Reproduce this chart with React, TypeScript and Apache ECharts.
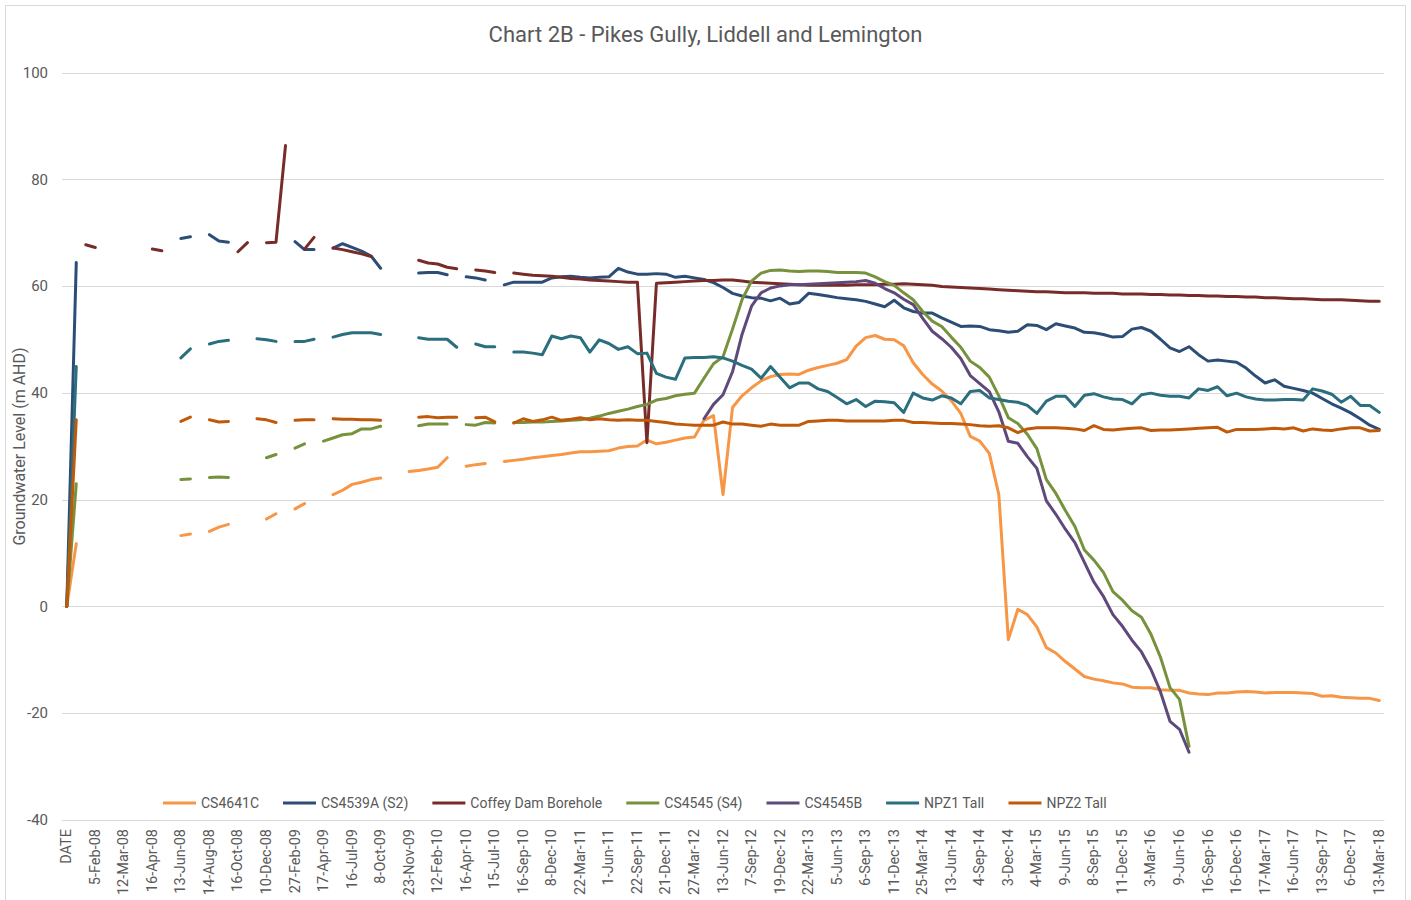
import React, { useEffect, useRef } from 'react';
import * as echarts from 'echarts';

const _ = null;

const tickLabels = [
  'DATE', '5-Feb-08', '12-Mar-08', '16-Apr-08', '13-Jun-08', '14-Aug-08', '16-Oct-08', '10-Dec-08',
  '27-Feb-09', '17-Apr-09', '16-Jul-09', '8-Oct-09', '23-Nov-09', '12-Feb-10', '16-Apr-10', '15-Jul-10',
  '16-Sep-10', '8-Dec-10', '22-Mar-11', '1-Jun-11', '22-Sep-11', '21-Dec-11', '27-Mar-12', '13-Jun-12',
  '7-Sep-12', '19-Dec-12', '22-Mar-13', '5-Jun-13', '6-Sep-13', '11-Dec-13', '25-Mar-14', '13-Jun-14',
  '4-Sep-14', '3-Dec-14', '4-Mar-15', '9-Jun-15', '8-Sep-15', '11-Dec-15', '3-Mar-16', '9-Jun-16',
  '16-Sep-16', '16-Dec-16', '17-Mar-17', '16-Jun-17', '13-Sep-17', '6-Dec-17', '13-Mar-18',
];

// every third sampling date is labelled on the axis; the two in between are unlabelled
const categories: string[] = tickLabels.flatMap((t, k) => (k < tickLabels.length - 1 ? [t, '', ''] : [t]));

const cs4641c = [
  0, 11.8, _, _, _, _, _, _, _, _,
  _, _, 13.3, 13.6, _, 14.1, 14.9, 15.4, _, _,
  _, 16.4, 17.4, _, 18.3, 19.3, _, _, 21.0, 21.8,
  22.9, 23.3, 23.8, 24.1, _, _, 25.3, 25.5, 25.8, 26.1,
  27.9, _, 26.3, 26.6, 26.8, _, 27.2, 27.4, 27.6, 27.9,
  28.1, 28.3, 28.5, 28.8, 29.0, 29.0, 29.1, 29.2, 29.7, 30.0,
  30.1, 31.2, 30.5, 30.8, 31.2, 31.6, 31.8, 34.9, 35.8, 21.0,
  37.3, 39.5, 41.0, 42.3, 43.1, 43.5, 43.6, 43.5, 44.3, 44.8,
  45.2, 45.6, 46.3, 48.8, 50.4, 50.8, 50.1, 50.0, 48.9, 45.7,
  43.5, 41.7, 40.4, 38.6, 36.2, 31.9, 31.0, 28.7, 21.0, -6.2,
  -0.5, -1.5, -3.8, -7.7, -8.7, -10.3, -11.7, -13.1, -13.6, -13.9,
  -14.3, -14.5, -15.1, -15.2, -15.2, -15.6, -15.7, -15.7, -16.2, -16.4,
  -16.5, -16.2, -16.2, -16.0, -15.9, -16.0, -16.2, -16.1, -16.1, -16.1,
  -16.2, -16.3, -16.8, -16.7, -17.0, -17.1, -17.2, -17.2, -17.6,
];

const cs4539a = [
  0, 64.5, _, _, _, _, _, _, _, _,
  _, _, 69.0, 69.3, _, 69.7, 68.5, 68.3, _, _,
  _, _, _, _, 68.4, 66.9, 66.9, _, 67.2, 68.0,
  67.3, 66.6, 65.7, 63.4, _, _, _, 62.5, 62.6, 62.6,
  62.2, _, 61.8, 61.6, 61.2, _, 60.3, 60.8, 60.8, 60.8,
  60.8, 61.6, 61.8, 61.9, 61.7, 61.6, 61.7, 61.8, 63.4, 62.7,
  62.3, 62.3, 62.4, 62.3, 61.7, 61.9, 61.6, 61.3, 60.7, 59.8,
  58.7, 58.2, 57.9, 57.8, 57.3, 57.8, 56.7, 57.0, 58.7, 58.5,
  58.2, 57.9, 57.7, 57.5, 57.2, 56.7, 56.2, 57.4, 56.0, 55.3,
  55.0, 55.0, 54.1, 53.3, 52.5, 52.6, 52.5, 51.9, 51.7, 51.4,
  51.6, 52.8, 52.7, 51.9, 53.0, 52.6, 52.2, 51.4, 51.3, 51.0,
  50.5, 50.6, 52.0, 52.3, 51.6, 50.1, 48.5, 47.8, 48.7, 47.2,
  46.0, 46.2, 46.0, 45.8, 44.7, 43.2, 41.9, 42.5, 41.3, 40.9,
  40.5, 40.0, 39.0, 38.0, 37.2, 36.3, 35.2, 34.0, 33.2,
];

const coffeyDam = [
  _, _, 67.8, 67.3, _, _, _, _, _, 67.0,
  66.7, _, _, _, _, _, _, _, 66.5, 68.2,
  _, 68.2, 68.3, 86.4, _, 67.0, 69.2, _, 67.2, 66.9,
  66.5, 66.1, 65.6, _, _, _, _, 64.9, 64.4, 64.2,
  63.6, 63.3, _, 63.1, 62.9, 62.6, _, 62.5, 62.3, 62.1,
  62.0, 61.9, 61.7, 61.5, 61.4, 61.2, 61.1, 61.0, 60.9, 60.8,
  60.8, 30.7, 60.6, 60.7, 60.8, 60.9, 61.0, 61.1, 61.1, 61.2,
  61.2, 61.0, 60.8, 60.7, 60.6, 60.5, 60.4, 60.3, 60.2, 60.2,
  60.2, 60.2, 60.2, 60.3, 60.3, 60.3, 60.4, 60.4, 60.5, 60.4,
  60.3, 60.2, 60.0, 59.9, 59.8, 59.7, 59.6, 59.5, 59.4, 59.3,
  59.2, 59.1, 59.0, 59.0, 58.9, 58.8, 58.8, 58.8, 58.7, 58.7,
  58.7, 58.6, 58.6, 58.6, 58.5, 58.5, 58.4, 58.4, 58.3, 58.3,
  58.2, 58.2, 58.1, 58.1, 58.0, 58.0, 57.9, 57.9, 57.8, 57.7,
  57.7, 57.6, 57.5, 57.5, 57.5, 57.4, 57.3, 57.2, 57.2,
];

const cs4545 = [
  0, 23.0, _, _, _, _, _, _, _, _,
  _, _, 23.8, 23.9, _, 24.2, 24.3, 24.2, _, _,
  _, 27.9, 28.5, _, 29.7, 30.5, _, 31.0, 31.6, 32.2,
  32.4, 33.3, 33.3, 33.8, _, _, _, 33.9, 34.2, 34.2,
  34.2, _, 34.1, 34.0, 34.5, 34.4, _, 34.5, 34.5, 34.6,
  34.6, 34.7, 34.8, 34.9, 35.0, 35.3, 35.7, 36.2, 36.6, 37.0,
  37.5, 37.9, 38.7, 39.0, 39.5, 39.8, 40.0, 42.8, 45.5, 46.8,
  52.0, 57.5, 61.0, 62.5, 63.0, 63.1, 62.9, 62.8, 62.9, 62.9,
  62.8, 62.6, 62.6, 62.6, 62.5, 61.8, 60.9, 60.2, 58.8, 57.5,
  55.3, 53.5, 52.5, 50.5, 48.6, 46.0, 44.8, 43.0, 39.5, 35.4,
  34.3, 32.3, 29.6, 23.8, 21.2, 18.0, 15.0, 10.6, 8.7, 6.4,
  2.8, 1.2, -0.8, -2.0, -5.2, -9.5, -15.2, -17.4, -26.2, _,
  _, _, _, _, _, _, _, _, _, _,
  _, _, _, _, _, _, _, _, _,
];

const cs4545b = [
  _, _, _, _, _, _, _, _, _, _,
  _, _, _, _, _, _, _, _, _, _,
  _, _, _, _, _, _, _, _, _, _,
  _, _, _, _, _, _, _, _, _, _,
  _, _, _, _, _, _, _, _, _, _,
  _, _, _, _, _, _, _, _, _, _,
  _, _, _, _, _, _, _, 35.2, 37.9, 39.7,
  44.0, 51.0, 56.3, 58.8, 59.7, 60.1, 60.3, 60.3, 60.4, 60.5,
  60.6, 60.7, 60.8, 60.9, 61.1, 60.6, 59.6, 58.8, 57.6, 56.6,
  54.0, 51.6, 50.2, 48.6, 46.5, 43.3, 41.8, 40.3, 36.5, 31.0,
  30.6, 28.1, 25.9, 19.8, 17.3, 14.5, 12.0, 8.3, 4.6, 1.9,
  -1.5, -3.7, -6.3, -8.5, -11.8, -16.0, -21.5, -23.0, -27.3, _,
  _, _, _, _, _, _, _, _, _, _,
  _, _, _, _, _, _, _, _, _,
];

const npz1 = [
  0, 45.0, _, _, _, _, _, _, _, _,
  _, _, 46.6, 48.3, _, 49.2, 49.7, 49.9, _, _,
  50.2, 50.0, 49.7, _, 49.7, 49.7, 50.1, _, 50.5, 51.0,
  51.3, 51.3, 51.3, 51.0, _, _, _, 50.4, 50.1, 50.1,
  50.1, 48.6, _, 49.2, 48.7, 48.7, _, 47.7, 47.7, 47.5,
  47.2, 50.7, 50.2, 50.7, 50.4, 47.7, 50.0, 49.3, 48.2, 48.7,
  47.4, 47.5, 43.7, 43.0, 42.6, 46.6, 46.7, 46.7, 46.8, 46.6,
  46.0, 45.2, 44.5, 42.8, 45.0, 43.0, 41.0, 41.9, 41.9, 40.8,
  40.3, 39.2, 38.0, 38.8, 37.5, 38.5, 38.4, 38.2, 36.4, 40.0,
  39.1, 38.7, 39.5, 39.1, 38.0, 40.3, 40.5, 39.1, 38.8, 38.5,
  38.3, 37.7, 36.2, 38.5, 39.4, 39.4, 37.5, 39.6, 39.9, 39.3,
  38.9, 38.8, 38.0, 39.7, 40.0, 39.6, 39.4, 39.4, 39.1, 40.8,
  40.5, 41.2, 39.5, 40.0, 39.3, 38.9, 38.7, 38.7, 38.8, 38.8,
  38.7, 40.8, 40.4, 39.8, 38.3, 39.4, 37.7, 37.7, 36.4,
];

const npz2 = [
  0, 35.0, _, _, _, _, _, _, _, _,
  _, _, 34.7, 35.5, _, 35.0, 34.6, 34.7, _, _,
  35.2, 35.0, 34.5, _, 34.9, 35.0, 35.0, _, 35.2, 35.1,
  35.1, 35.0, 35.0, 34.9, _, _, _, 35.5, 35.6, 35.4,
  35.5, 35.5, _, 35.4, 35.5, 34.6, _, 34.4, 35.2, 34.7,
  35.0, 35.5, 34.9, 35.1, 35.4, 35.0, 35.2, 35.0, 34.9, 35.0,
  34.9, 34.9, 34.7, 34.5, 34.2, 34.1, 34.0, 34.0, 34.0, 34.6,
  34.2, 34.2, 34.0, 33.8, 34.2, 34.0, 34.0, 34.0, 34.7, 34.8,
  34.9, 34.9, 34.8, 34.8, 34.8, 34.8, 34.8, 34.9, 34.9, 34.5,
  34.5, 34.4, 34.3, 34.3, 34.2, 34.1, 33.9, 33.8, 33.9, 33.5,
  32.6, 33.3, 33.5, 33.5, 33.5, 33.4, 33.3, 33.0, 33.9, 33.2,
  33.1, 33.3, 33.4, 33.5, 33.0, 33.1, 33.1, 33.2, 33.3, 33.4,
  33.5, 33.6, 32.7, 33.2, 33.2, 33.2, 33.3, 33.4, 33.3, 33.5,
  32.9, 33.3, 33.1, 33.0, 33.3, 33.5, 33.5, 32.9, 33.0,
];

const seriesDefs = [
  { name: 'CS4641C', color: '#F79646', data: cs4641c },
  { name: 'CS4539A (S2)', color: '#2C4D75', data: cs4539a },
  { name: 'Coffey Dam Borehole', color: '#772C2A', data: coffeyDam },
  { name: 'CS4545 (S4)', color: '#76923C', data: cs4545 },
  { name: 'CS4545B', color: '#5F497A', data: cs4545b },
  { name: 'NPZ1 Tall', color: '#2B6E7E', data: npz1 },
  { name: 'NPZ2 Tall', color: '#C05A0A', data: npz2 },
];

const FONT = 'Roboto, "Noto Sans", sans-serif';
const GREY = '#595959';

export default function App() {
  const ref = useRef<HTMLDivElement>(null);

  useEffect(() => {
    if (!ref.current) return;
    const chart = echarts.init(ref.current, undefined, { renderer: 'svg' });
    chart.setOption({
      animation: false,
      backgroundColor: '#FFFFFF',
      title: {
        text: 'Chart 2B - Pikes Gully, Liddell and Lemington',
        left: 'center',
        top: 18,
        padding: 5,
        textStyle: { fontFamily: FONT, fontSize: 22, fontWeight: 'normal', color: GREY },
      },
      legend: {
        data: seriesDefs.map((s) => s.name),
        left: 158,
        top: 791,
        icon: 'rect',
        itemWidth: 33,
        itemHeight: 3,
        itemGap: 24,
        textStyle: { fontFamily: FONT, fontSize: 14, color: GREY },
      },
      grid: { left: 62, right: 27, top: 73, bottom: 80, containLabel: false, outerBoundsMode: 'none' },
      xAxis: {
        type: 'category',
        data: categories,
        boundaryGap: true,
        axisLine: { onZero: false, lineStyle: { color: '#D9D9D9', width: 1 } },
        axisTick: { show: false },
        axisLabel: {
          interval: 2,
          rotate: 90,
          margin: 9,
          fontFamily: FONT,
          fontSize: 14.5,
          color: GREY,
        },
        splitLine: { show: false },
      },
      yAxis: {
        type: 'value',
        min: -40,
        max: 100,
        interval: 20,
        name: 'Groundwater Level (m AHD)',
        nameLocation: 'middle',
        nameGap: 35,
        nameMoveOverlap: false,
        nameTextStyle: { fontFamily: FONT, fontSize: 16, color: GREY },
        axisLine: { show: false },
        axisTick: { show: false },
        axisLabel: { fontFamily: FONT, fontSize: 15, color: GREY, margin: 14 },
        splitLine: { lineStyle: { color: '#D9D9D9', width: 1 } },
      },
      graphic: [
        {
          type: 'rect',
          silent: true,
          z: -10,
          shape: { x: 5.5, y: 5.5, width: 1400, height: 905 },
          style: { fill: 'none', stroke: '#D9D9D9', lineWidth: 1 },
        },
      ],
      series: seriesDefs.map((s) => ({
        name: s.name,
        type: 'line',
        data: s.data,
        showSymbol: false,
        symbol: 'none',
        connectNulls: false,
        color: s.color,
        lineStyle: { color: s.color, width: 3, cap: 'round', join: 'round' },
        itemStyle: { color: s.color },
      })),
    });
    return () => chart.dispose();
  }, []);

  return (
    <div
      ref={ref}
      style={{ position: 'fixed', left: 0, top: 0, width: 1411, height: 900, background: '#fff' }}
    />
  );
}
